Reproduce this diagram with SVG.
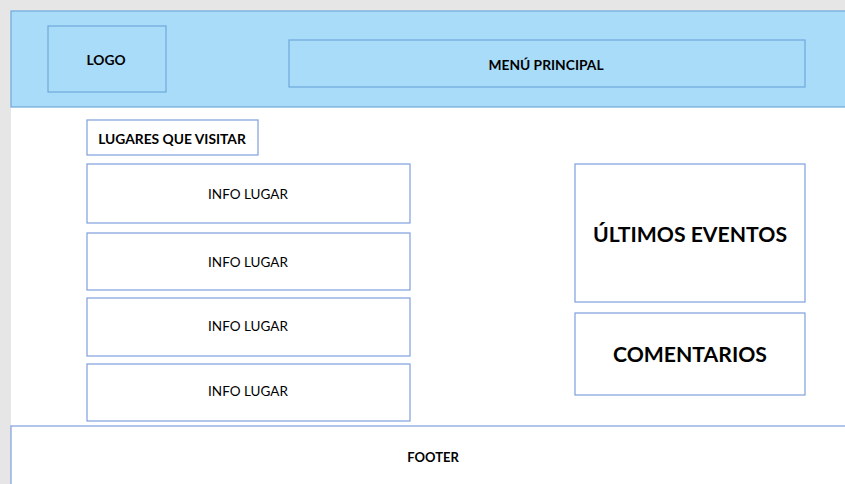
<svg xmlns="http://www.w3.org/2000/svg" width="845" height="484" viewBox="0 0 845 484">
<style>
.box{fill:#ffffff;stroke:#7f9fdc;stroke-width:1.2}
.hb{fill:#a9dcf8;stroke:#6fa8dc;stroke-width:1.2}
text{font-family:Lato,"Open Sans",sans-serif;fill:#000;text-anchor:middle;dominant-baseline:central}
.b{font-weight:bold;font-size:13.8px}
.f{font-weight:bold;font-size:13px}
.r{font-size:13.5px}
.big{font-weight:bold;font-size:21.2px}
</style>
<rect x="0" y="0" width="845" height="484" fill="#e6e6e6"/>
<rect x="11" y="11" width="834" height="473" fill="#ffffff"/>
<g id="header"><rect class="hb" x="11" y="11" width="836" height="96"/></g>
<g id="logo"><rect class="hb" x="48" y="26" width="118" height="66"/><text class="b" x="106" y="59">LOGO</text></g>
<g id="menu"><rect class="hb" x="289" y="40" width="516" height="47"/><text class="b" x="546" y="64">MENÚ PRINCIPAL</text></g>
<g id="lugares"><rect class="box" x="87" y="120" width="171" height="35"/><text class="b" x="172" y="138">LUGARES QUE VISITAR</text></g>
<g id="info1"><rect class="box" x="87" y="164" width="323" height="59"/><text class="r" x="248" y="194">INFO LUGAR</text></g>
<g id="info2"><rect class="box" x="87" y="233" width="323" height="57"/><text class="r" x="248" y="262">INFO LUGAR</text></g>
<g id="info3"><rect class="box" x="87" y="298" width="323" height="58"/><text class="r" x="248" y="326">INFO LUGAR</text></g>
<g id="info4"><rect class="box" x="87" y="364" width="323" height="57"/><text class="r" x="248" y="391">INFO LUGAR</text></g>
<g id="eventos"><rect class="box" x="575" y="164" width="230" height="138"/><text class="big" x="690" y="234">ÚLTIMOS EVENTOS</text></g>
<g id="comentarios"><rect class="box" x="575" y="313" width="230" height="82"/><text class="big" x="690" y="354">COMENTARIOS</text></g>
<g id="footer"><rect class="box" x="11" y="426" width="836" height="60"/><text class="f" x="433" y="457">FOOTER</text></g>
<g id="connectors"></g>
</svg>
